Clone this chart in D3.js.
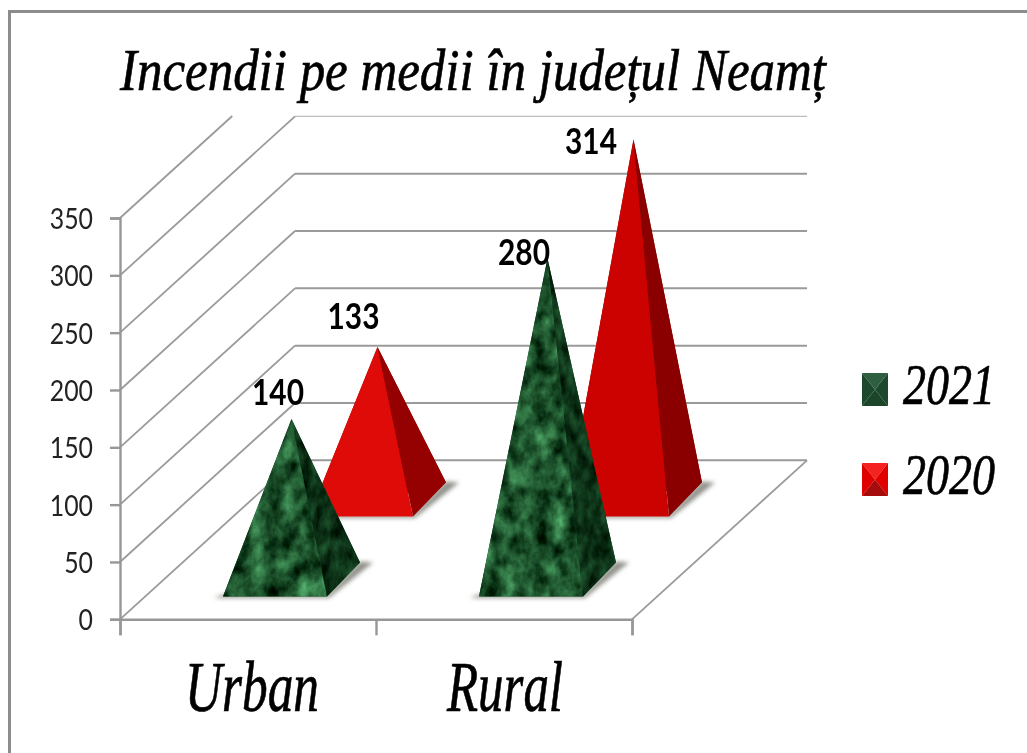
<!DOCTYPE html>
<html><head><meta charset="utf-8">
<script src="https://cdn.jsdelivr.net/npm/d3@7/dist/d3.min.js"></script>
<style>
html,body{margin:0;padding:0;background:#fff;overflow:hidden}
svg{display:block}
.serif{font-family:"Liberation Serif",serif;font-style:italic;fill:#000;stroke:#000;stroke-width:.7}
.num{font-family:Lato,"Open Sans",sans-serif}
</style></head><body>
<svg id="c" width="1027" height="753"></svg>
<script>
const titleText = "Incendii pe medii în județul Neamț";
const categories = ["Urban", "Rural"];
const seriesNames = ["2021", "2020"];
const values2021 = [140, 280];
const values2020 = [133, 314];
const yTicks = [0, 50, 100, 150, 200, 250, 300, 350];

const svg = d3.select("#c");
const defs = svg.append("defs");
const soft = defs.append("filter").attr("id","soft").attr("filterUnits","userSpaceOnUse").attr("x",0).attr("y",0).attr("width",1027).attr("height",753);
soft.append("feGaussianBlur").attr("stdDeviation",0.55);
const shadowF = defs.append("filter").attr("id","shadow").attr("filterUnits","userSpaceOnUse").attr("x",0).attr("y",0).attr("width",1027).attr("height",753);
shadowF.append("feGaussianBlur").attr("stdDeviation",2.2);

function marble(id, seed, freq, mat){
  const f = defs.append("filter").attr("id",id).attr("x","0%").attr("y","0%").attr("width","100%").attr("height","100%")
    .attr("color-interpolation-filters","sRGB");
  f.append("feTurbulence").attr("type","fractalNoise").attr("baseFrequency",freq).attr("numOctaves",6).attr("seed",seed).attr("result","n");
  f.append("feColorMatrix").attr("in","n").attr("type","matrix").attr("values",mat).attr("result","c");
  f.append("feGaussianBlur").attr("in","c").attr("stdDeviation",0.4).attr("result","b");
  f.append("feComposite").attr("in","b").attr("in2","SourceAlpha").attr("operator","in");
}
marble("mFront", 4, "0.06 0.045", `0.5 0 0 0 -0.13  0.85 0 0 0 -0.09  0.6 0 0 0 -0.12  0 0 0 0 1`);
marble("mSide", 9, "0.09 0.05", `0.22 0 0 0 -0.06  0.45 0 0 0 -0.03  0.3 0 0 0 -0.06  0 0 0 0 1`);

// frame
svg.append("path").attr("d","M9.5,753V11.5H1027").attr("fill","none").attr("stroke","#8c8c8c").attr("stroke-width",3);

// scales
const y = d3.scaleLinear().domain([0,350]).range([619.3,218]);
const x = d3.scaleBand().domain(categories).range([120,632]);
const depth = [175,-159];
const rowShift = d3.scalePoint().domain(seriesNames).range([0,1]);
const clipTop = 116;

const grid = svg.append("g").attr("filter","url(#soft)");
const gridCol = "#9a9a9a";
// back wall + side wall grid
yTicks.forEach(t=>{
  const y0=y(t), y1=y0+depth[1];
  let x1=120+depth[0], yEnd=y1;
  if(y1<clipTop-0.5){ x1=120+depth[0]*(y0-clipTop)/(-depth[1]); yEnd=clipTop; }
  grid.append("line").attr("x1",120).attr("y1",y0).attr("x2",x1).attr("y2",yEnd).attr("stroke",gridCol).attr("stroke-width",1.8);
  if(y1>=clipTop-0.5) grid.append("line").attr("x1",120+depth[0]).attr("y1",y1).attr("x2",632+depth[0]).attr("y2",y1)
     .attr("stroke",t===300?"#bdbdbd":gridCol).attr("stroke-width",t===300?1.4:2);
});
// floor right edge
grid.append("line").attr("x1",632).attr("y1",y(0)).attr("x2",632+depth[0]).attr("y2",y(0)+depth[1]).attr("stroke",gridCol).attr("stroke-width",1.8);

// axes via d3
const ax = grid.append("g").attr("transform","translate(120,0)").call(d3.axisLeft(y).tickValues(yTicks).tickSize(10).tickFormat(""));
ax.selectAll("path,line").attr("stroke","#979797").attr("stroke-width",2.4);
const bx = grid.append("g").attr("transform",`translate(0,${y(0)})`).call(
  d3.axisBottom(d3.scaleLinear().domain([0,categories.length]).range([120,632])).tickValues(d3.range(categories.length+1)).tickSize(16).tickFormat(""));
bx.selectAll("path,line").attr("stroke","#979797").attr("stroke-width",2.4);

// tick labels
const labels = svg.append("g").attr("filter","url(#soft)");
yTicks.forEach(t=>{
  const s=String(t);
  labels.append("text").attr("class","num").attr("x",93).attr("y",y(t)+11).attr("text-anchor","end")
    .attr("font-size",29).attr("fill","#222").attr("textLength",s.length*14.4).attr("lengthAdjust","spacingAndGlyphs").text(s);
});

// pyramids: back row first, then front
const baseInset=103, baseW=104, baseD=[33,-34], rowX=86, rowY=-80, floorFront=596.5;
const yScalePx = v => y(0)-y(v);
const line = d3.line();
const marks = svg.append("g");
function pyramid(cat,ser,val,col){
  const r=rowShift(ser);
  const lx=x(cat)+baseInset+r*rowX, by=floorFront+r*rowY;
  const A=[lx,by],B=[lx+baseW,by],C=[lx+baseW+baseD[0],by+baseD[1]];
  const apex=[lx+(baseW+baseD[0])/2, by+baseD[1]/2-yScalePx(val)];
  // shadow
  marks.append("path").attr("d",line([[A[0]-9,by+1.5],[B[0]+2,by+1.5],[C[0]+13,C[1]+0],[C[0],C[1]-1],[B[0],by-2],[A[0],by-2]])+"Z")
    .attr("fill","#6e6e66").attr("opacity",.75).attr("filter","url(#shadow)");
  if(col){
    marks.append("path").attr("d",line([A,C,apex])+"Z").attr("fill",col[1]);
    marks.append("path").attr("d",line([A,B,apex])+"Z").attr("fill",col[0]);
    marks.append("path").attr("d",line([B,C,apex])+"Z").attr("fill",col[1]);
  } else {
    marks.append("path").attr("d",line([A,B,C,apex])+"Z").attr("fill","#164a2b");
    marks.append("path").attr("d",line([A,B,apex])+"Z").attr("fill","#000").attr("filter","url(#mFront)");
    marks.append("path").attr("d",line([B,C,apex])+"Z").attr("fill","#000").attr("filter","url(#mSide)");
  }
  return apex;
}
const apexR = categories.map((c,i)=>pyramid(c,"2020",values2020[i],i===0?["#df0b08","#950000"]:["#cc0200","#8a0000"]));
const apexG = categories.map((c,i)=>pyramid(c,"2021",values2021[i],null));

// data labels
const lblOff = {g:[[-13.5,-14],[-23.5,6.4]], r:[[-24,-18],[-42.5,15]]};
function dataLabel(a,off,v){
  svg.append("text").attr("class","num").attr("x",a[0]+off[0]).attr("y",a[1]+off[1]).attr("text-anchor","middle")
   .attr("font-size",37).attr("font-weight",700).attr("fill","#000").attr("textLength",52).attr("lengthAdjust","spacingAndGlyphs")
   .attr("filter","url(#soft)").text(v);
}
values2021.forEach((v,i)=>dataLabel(apexG[i],lblOff.g[i],v));
values2020.forEach((v,i)=>dataLabel(apexR[i],lblOff.r[i],v));

// title + category labels
const tg = svg.append("g").attr("filter","url(#soft)");
tg.append("text").attr("class","serif").attr("x",120).attr("y",90).attr("font-size",60).attr("textLength",706)
  .attr("lengthAdjust","spacingAndGlyphs").text(titleText);
const catLen=[134,116];
categories.forEach((c,i)=>{
  tg.append("text").attr("class","serif").attr("x",x(c)+x.bandwidth()/2-(i===0?-4:-1)).attr("y",711).attr("text-anchor","middle")
   .attr("font-size",72).attr("textLength",catLen[i]).attr("lengthAdjust","spacingAndGlyphs").text(c);
});

// legend
const legY = d3.scalePoint().domain(seriesNames).range([389.5,479.5]);
seriesNames.forEach((s,i)=>{
  const cy=legY(s), L=862,R=888,T=cy-16.5,B=cy+16.5,mx=875,my=cy;
  const g=svg.append("g").attr("filter","url(#soft)");
  const cols = i===0 ? ["#2f5e3f","#1d4a2d","#1a4429","#1d4a2d"] : ["#f52020","#e00000","#a50808","#e00000"];
  g.append("path").attr("d",line([[L,T],[R,T],[mx,my]])+"Z").attr("fill",cols[0]);
  g.append("path").attr("d",line([[R,T],[R,B],[mx,my]])+"Z").attr("fill",cols[1]);
  g.append("path").attr("d",line([[R,B],[L,B],[mx,my]])+"Z").attr("fill",cols[2]);
  g.append("path").attr("d",line([[L,B],[L,T],[mx,my]])+"Z").attr("fill",cols[3]);
  g.append("text").attr("class","serif").attr("x",903).attr("y",cy+14).attr("font-size",56)
   .attr("textLength",92).attr("lengthAdjust","spacingAndGlyphs").text(s);
});
</script></body></html>
